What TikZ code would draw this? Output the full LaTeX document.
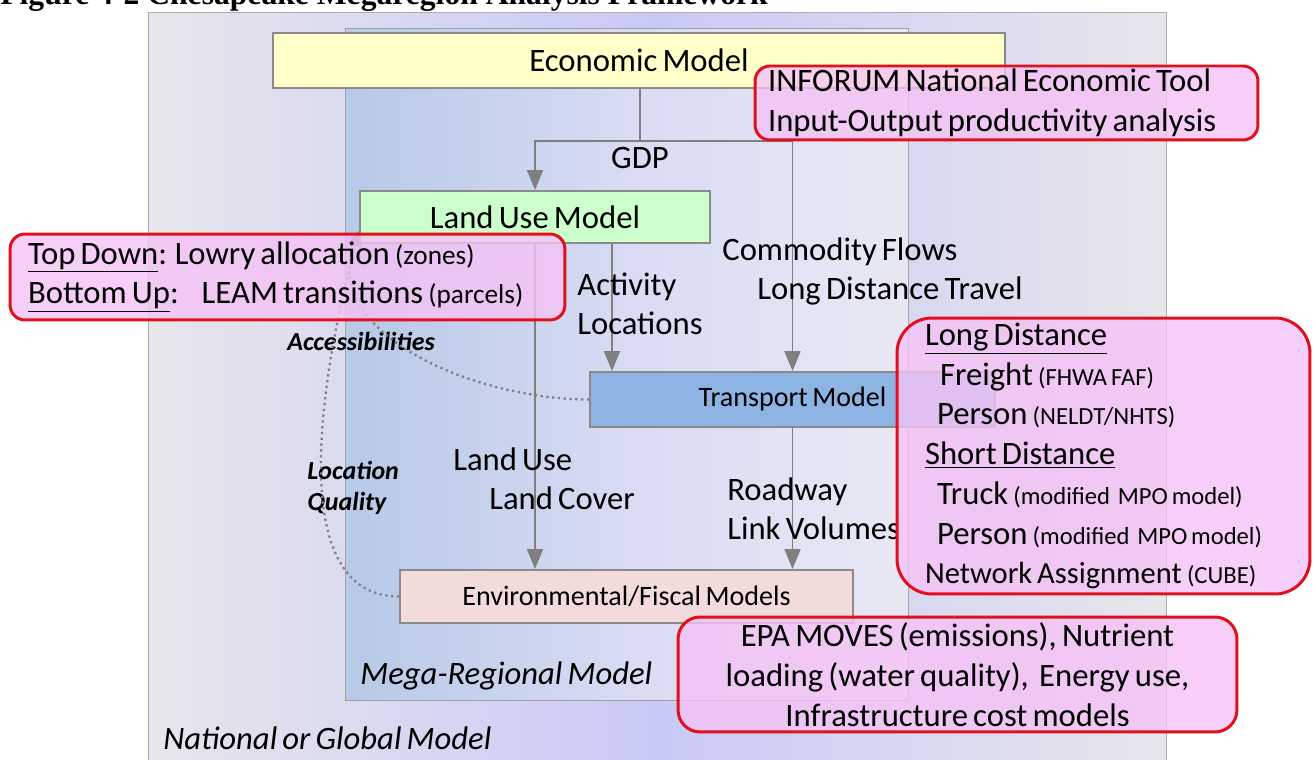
\documentclass[tikz,border=0pt]{standalone}
\usepackage{fontspec}
\setmainfont{Carlito}[WordSpace=0.7]
\newfontfamily\captionfont{Liberation Serif}
\usetikzlibrary{arrows.meta}
\definecolor{framered}{HTML}{E0101C}
\definecolor{notepink}{HTML}{F5C2F5}
\definecolor{econyellow}{HTML}{FFFFC9}
\definecolor{landgreen}{HTML}{CCFFCC}
\definecolor{transblue}{HTML}{8DB3E2}
\definecolor{envpink}{HTML}{F2DCDB}
\definecolor{edgegray}{HTML}{8A8A8A}
\definecolor{flowgray}{HTML}{7F7F7F}
\definecolor{outergray}{HTML}{E6E6EB}
\definecolor{outerblue}{HTML}{C9C9F7}
\definecolor{megablue}{HTML}{B6C9E6}
\definecolor{megamid}{HTML}{D8DBF3}
\definecolor{megapale}{HTML}{E8E8F4}
\newcommand\smalltxt[1]{{\fontsize{14}{22}\selectfont #1}}
\newcommand\midtxt[1]{{\fontsize{15.5}{22}\selectfont #1}}

\begin{document}
\begin{tikzpicture}[
        x=0.02cm, y=-0.02cm,
        every node/.style={inner sep=0pt, font=\fontsize{18.6}{22}\selectfont},
        modelbox/.style={draw=edgegray, line width=1.1pt},
        notebox/.style={draw=framered, line width=1.7pt, fill=notepink, fill opacity=0.8, text opacity=1, rounded corners=0.3cm, font=\fontsize{18.6}{22.6}\selectfont},
        arrowline/.style={draw=flowgray, line width=1.1pt, -{Triangle[width=0.32cm,length=0.4cm]}},
        plainline/.style={draw=flowgray, line width=1.1pt},
        loopline/.style={draw=flowgray, line width=1.3pt, dotted, -{Triangle[width=0.26cm,length=0.3cm]}},
        flowtext/.style={align=left, anchor=west},
        looptext/.style={align=left, font=\fontsize{14.8}{17.6}\selectfont\bfseries\itshape},
        scopetext/.style={anchor=west, font=\fontsize{18.6}{22}\selectfont\itshape}
    ]
    \useasboundingbox (0,0) rectangle (1316,760);
    \node[anchor=base west, font=\captionfont\bfseries\fontsize{18}{20}\selectfont] (caption) at (0,5) {Figure 4-2 Chesapeake Megaregion Analysis Framework};
    \node[left color=outergray, right color=outergray, middle color=outerblue, draw=edgegray!70, minimum width=20.36cm, minimum height=15.16cm, anchor=north west] (national) at (148,12) {};
    \node[left color=megablue, right color=megapale, middle color=megamid, draw=edgegray!80, minimum width=11.26cm, minimum height=13.44cm, anchor=north west] (mega) at (345,28) {};
    \node[modelbox, fill=econyellow, minimum width=14.64cm, minimum height=1.1cm] (econ) at (639,60.5) {Economic Model};
    \node[modelbox, fill=landgreen, minimum width=7cm, minimum height=1.04cm] (landuse) at (535,217) {Land Use Model};
    \node[modelbox, fill=transblue, minimum width=8.1cm, minimum height=1.1cm, font=\fontsize{16}{19}\selectfont] (transport) at (792.5,399.5) {Transport Model};
    \node[modelbox, fill=envpink, minimum width=9.06cm, minimum height=1.06cm, font=\fontsize{16}{19}\selectfont] (env) at (626.5,596.5) {Environmental/Fiscal Models};
    \coordinate (split) at (640,141);
    \coordinate (actx) at (612,0);
    \draw[plainline] (econ.south -| split) -- (split);
    \draw[arrowline] (split) -| (landuse.north);
    \draw[arrowline] (split) -| (transport.north);
    \draw[arrowline] (landuse.south -| actx) -- (transport.north -| actx);
    \draw[arrowline] (landuse.south) -- (landuse.south |- env.north);
    \draw[arrowline] (transport.south) -- (transport.south |- env.north);
    \node (gdp) at (640,158) {GDP};
    \node[flowtext] (activity) at (577,304) {Activity\\Locations};
    \node[flowtext] (commodity) at (722,271.5) {Commodity Flows\\\hspace*{0.7cm}Long Distance Travel};
    \node[flowtext] (landcover) at (453,479) {Land Use\\\hspace*{0.72cm}Land Cover};
    \node[flowtext] (roadway) at (727,508.5) {Roadway\\Link Volumes};
    \node[looptext] (access) at (361,341) {Accessibilities};
    \node[looptext, anchor=west] (quality) at (307,487.5) {Location\\Quality};
    \draw[loopline] (transport.west) to[out=180,in=250] ([yshift=0.26cm]landuse.south west);
    \draw[loopline] (env.west) to[out=180,in=255,looseness=0.85] ([yshift=0.26cm]landuse.south west);
    \node[scopetext] (megalabel) at (360,676) {Mega-Regional Model};
    \node[scopetext] (nationallabel) at (163,738) {National or Global Model};
    \node[notebox, minimum width=10.06cm, minimum height=1.48cm, text width=9.54cm, align=flush left] (inforum) at (1006.5,103) {INFORUM National Economic Tool\\Input-Output productivity analysis};
    \node[notebox, minimum width=11.1cm, minimum height=1.72cm, text width=10.38cm, align=flush left] (topdown) at (287.5,277) {\underline{Top Down}: Lowry allocation \midtxt{(zones)}\\\underline{Bottom Up}:\hspace{0.7em}LEAM transitions \midtxt{(parcels)}};
    \node[notebox, rounded corners=0.7cm, minimum width=8.26cm, minimum height=5.52cm, text width=7.14cm, align=flush left] (longdist) at (1103.5,456) {\underline{Long Distance}\\\hspace*{0.3cm}Freight \smalltxt{(FHWA FAF)}\\\hspace*{0.24cm}Person \smalltxt{(NELDT/NHTS)}\\\underline{Short Distance}\\\hspace*{0.24cm}Truck \smalltxt{(modified\ \ MPO model)}\\\hspace*{0.24cm}Person \smalltxt{(modified\ \ MPO model)}\\{\fontsize{17.4}{22}\selectfont Network Assignment} \smalltxt{(CUBE)}};
    \node[notebox, rounded corners=0.44cm, minimum width=11.18cm, minimum height=2.3cm, align=center] (epa) at (957.5,674.5) {EPA MOVES (emissions), Nutrient\\loading (water quality),\ \ Energy use,\\Infrastructure cost models};
\end{tikzpicture}
\end{document}
